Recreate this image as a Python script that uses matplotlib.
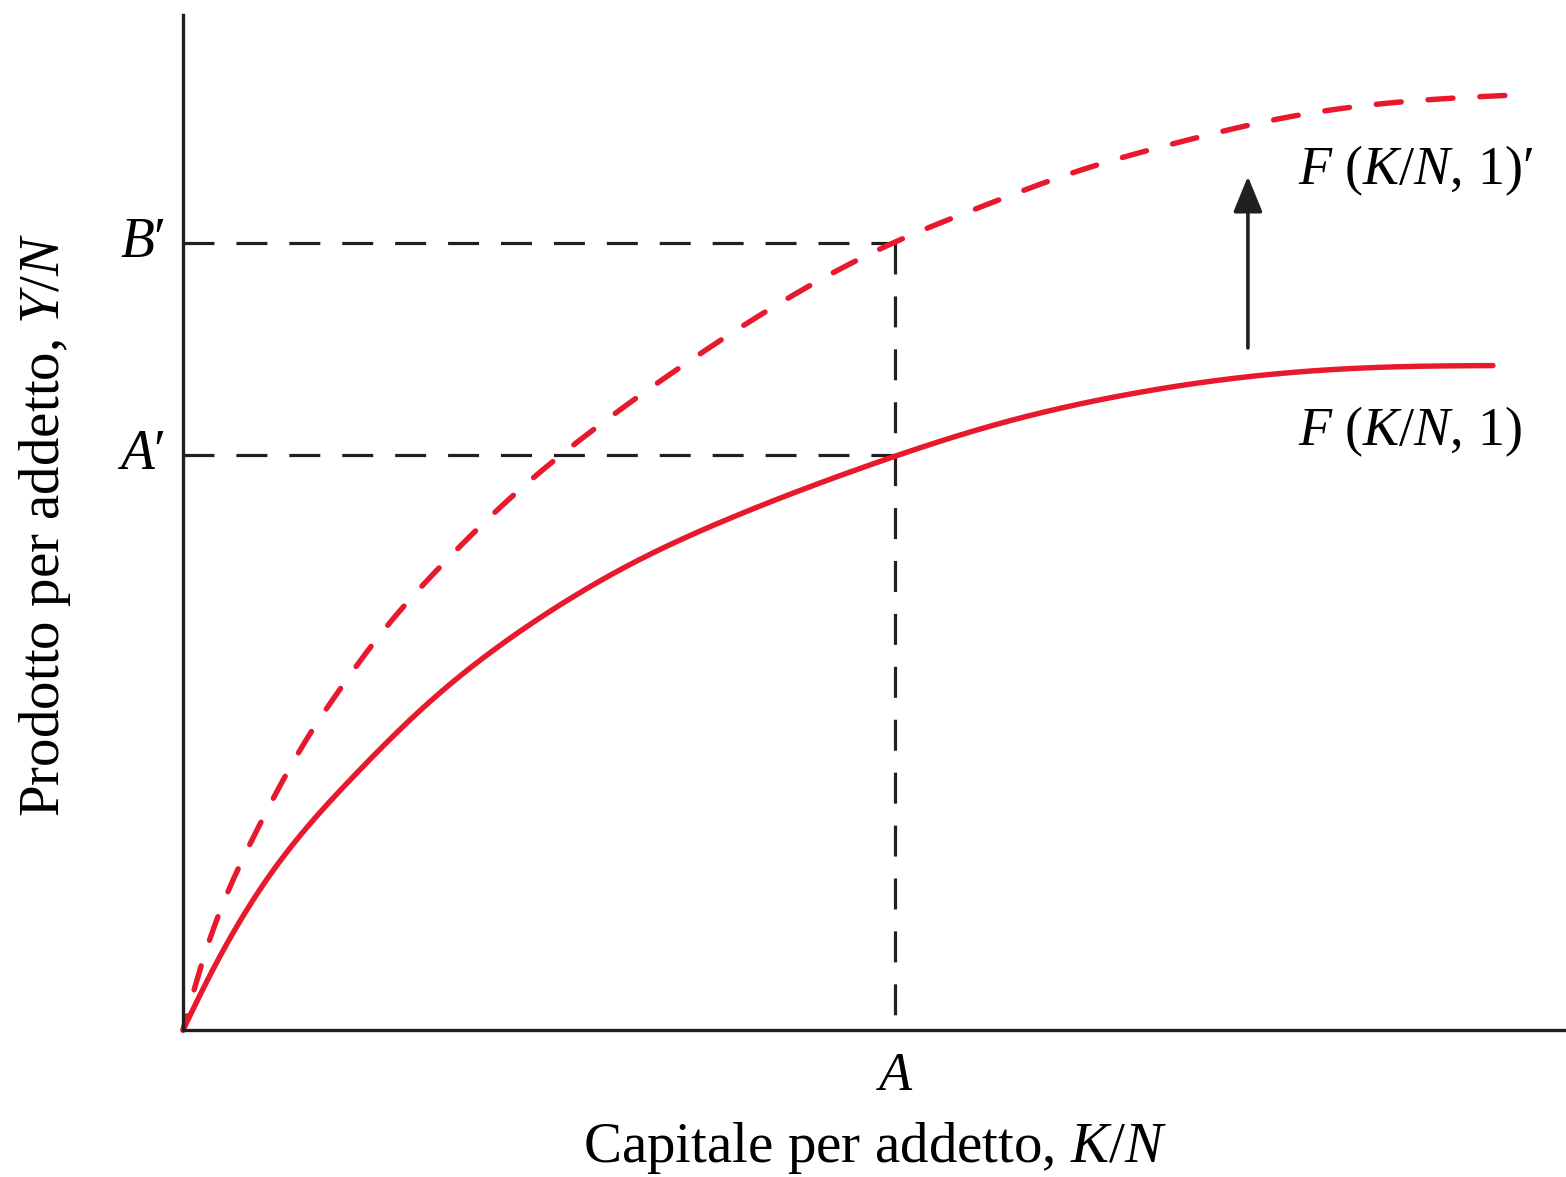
import matplotlib
matplotlib.use("Agg")
import matplotlib.pyplot as plt
import numpy as np

# values (arbitrary units, axes run 0..100)
k_base = [0, 1.81, 5.93, 12.08, 17.86, 25.09, 32.32, 39.77, 49.46, 59.07, 68.69, 78.38, 88.0, 94.72]
y_base = [0, 5.02, 14.58, 24.63, 32.36, 39.95, 45.86, 50.54, 55.57, 59.76, 62.71, 64.56, 65.35, 65.46]

k_new = [0, 1.01, 2.17, 3.62, 5.35, 7.16, 9.04, 11.21, 13.67, 18.58, 24.15, 29.93,
         36.51, 43.17, 51.34, 57.12, 64.50, 72.09, 79.54, 88.0, 96.31]
y_new = [0, 4.93, 9.85, 14.78, 19.70, 24.43, 28.87, 33.30, 37.93, 45.62, 53.00, 59.41,
         65.81, 71.63, 77.54, 80.79, 84.53, 87.49, 89.85, 91.43, 92.12]

k_a = 51.48
y_a = 56.65
y_b = 77.54

arrow_x = 77.0
arrow_y = (67.2, 84.1)

RED = "#E8192C"
INK = "#231f20"

plt.rcParams.update(
    {
        "font.family": "Liberation Serif",
        "mathtext.fontset": "custom",
        "mathtext.rm": "Liberation Serif",
        "mathtext.it": "Liberation Serif:italic",
        "lines.scale_dashes": False,
    }
)


def spline(xs, ys, n=600):
    # natural cubic spline through the read points
    xs = np.asarray(xs, float)
    ys = np.asarray(ys, float)
    k = len(xs)
    h = np.diff(xs)
    A = np.zeros((k, k))
    r = np.zeros(k)
    A[0, 0] = A[-1, -1] = 1.0
    for i in range(1, k - 1):
        A[i, i - 1] = h[i - 1]
        A[i, i] = 2 * (h[i - 1] + h[i])
        A[i, i + 1] = h[i]
        r[i] = 6 * ((ys[i + 1] - ys[i]) / h[i] - (ys[i] - ys[i - 1]) / h[i - 1])
    M = np.linalg.solve(A, r)
    xx = np.linspace(xs[0], xs[-1], n)
    j = np.clip(np.searchsorted(xs, xx) - 1, 0, k - 2)
    a = xs[j + 1] - xx
    b = xx - xs[j]
    hj = h[j]
    yy = (M[j] * a**3 + M[j + 1] * b**3) / (6 * hj) \
        + (ys[j] / hj - M[j] * hj / 6) * a + (ys[j + 1] / hj - M[j + 1] * hj / 6) * b
    return xx, yy


fig = plt.figure(figsize=(15.66, 11.77), dpi=100)
ax = fig.add_axes([183 / 1566, 147 / 1177, 1383 / 1566, 1015 / 1177])
ax.set_xlim(0, 100)
ax.set_ylim(0, 100)

for side in ("top", "right"):
    ax.spines[side].set_visible(False)
for side in ("left", "bottom"):
    ax.spines[side].set_linewidth(2.4)
    ax.spines[side].set_color(INK)
ax.set_xticks([])
ax.set_yticks([])

black_dash = dict(color=INK, linewidth=2.3, linestyle=(0, (22.3, 15.8)))
ax.plot([0, k_a], [y_a, y_a], **black_dash)
ax.plot([0, k_a], [y_b, y_b], **black_dash)
ax.plot([k_a, k_a], [y_b, 0], **black_dash)

xx, yy = spline(k_base, y_base)
ax.plot(xx, yy, color=RED, linewidth=3.9, solid_capstyle="round", clip_on=False)
xx, yy = spline(k_new, y_new)
ax.plot(xx, yy, color=RED, linewidth=3.9, linestyle=(7.4, (18, 19.4)),
        dash_capstyle="round", clip_on=False)

ax.annotate(
    "",
    xy=(arrow_x, arrow_y[1]),
    xytext=(arrow_x, arrow_y[0]),
    arrowprops=dict(arrowstyle="-|>,head_length=2.2,head_width=0.9", color=INK,
                    lw=2.6, shrinkA=0, shrinkB=0),
)

ax.text(80.6, 84.7, r"$F\ (K/N,\,1)\prime$", fontsize=39, va="center", ha="left")
ax.text(80.6, 58.9, r"$F\ (K/N,\,1)$", fontsize=39, va="center", ha="left")

ax.text(-1.3, y_b, r"$B\prime$", fontsize=40, va="center", ha="right")
ax.text(-1.3, y_a, r"$A\prime$", fontsize=40, va="center", ha="right")
ax.text(k_a, -4.6, r"$A$", fontsize=39, va="center", ha="center")

fig.text(875 / 1566, 1 - 1148 / 1177, r"Capitale per addetto, $K/N$",
         fontsize=41, ha="center", va="center")
fig.text(45 / 1566, 1 - 525 / 1177, r"Prodotto per addetto, $Y/N$",
         fontsize=41, ha="center", va="center", rotation=90)

fig.savefig("out.png", dpi=100)
